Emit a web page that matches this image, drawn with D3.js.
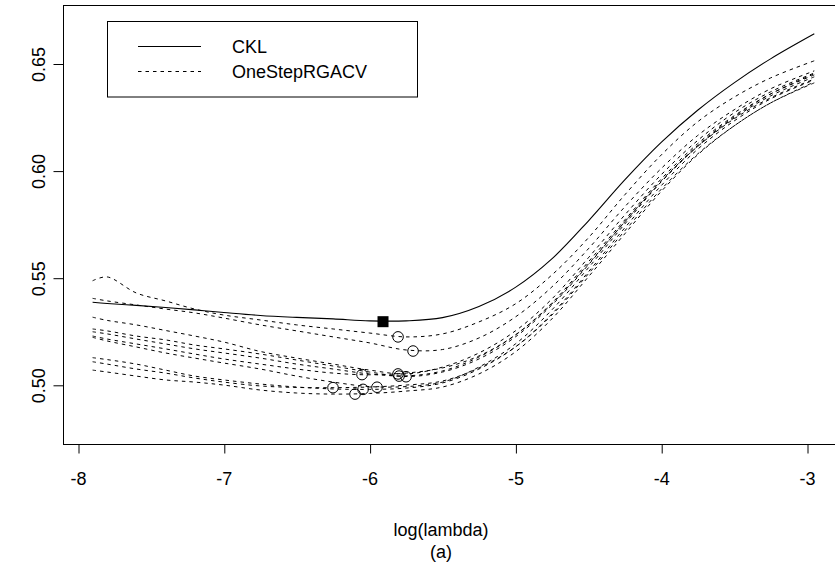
<!DOCTYPE html>
<html>
<head>
<meta charset="utf-8">
<script src="https://cdn.jsdelivr.net/npm/d3@7"></script>
<style>
  html, body { margin: 0; padding: 0; background: #fff; }
  svg { display: block; }
  text { font-family: "Liberation Sans", Arial, Helvetica, sans-serif; fill: #000; }
</style>
</head>
<body>
<svg id="chart" width="835" height="579"></svg>
<script>
// ---- data ----
const logLambda = [-7.9, -7.8, -7.6, -7.4, -7.2, -7.0, -6.75, -6.5, -6.25, -6.0, -5.75, -5.5,
                   -5.25, -5.0, -4.75, -4.5, -4.25, -4.0, -3.75, -3.5, -3.25, -2.95];

const cklValues = [0.5388,0.5382,0.5373,0.5363,0.5352,0.5340,0.5326,0.5317,0.5310,0.5301,0.5301,0.5316,
                   0.5368,0.5457,0.5590,0.5767,0.5959,0.6134,0.6284,0.6412,0.6524,0.6641];
const cklMinX = -5.908;
const cklMinY = 0.5297;

const rgacv1  = [0.5488,0.5506,0.5431,0.5394,0.5356,0.5328,0.5305,0.5282,0.5263,0.5244,0.5226,0.5240,0.5296,0.5380,0.5515,0.5688,0.5889,0.6075,0.6230,0.6345,0.6435,0.6515];
const rgacv2  = [0.5406,0.5394,0.5375,0.5356,0.5338,0.5314,0.5282,0.5254,0.5226,0.5198,0.5165,0.5167,0.5221,0.5319,0.5459,0.5637,0.5833,0.6012,0.6166,0.6286,0.6384,0.6468];
const rgacv3  = [0.5318,0.5303,0.5282,0.5256,0.5230,0.5202,0.5158,0.5127,0.5099,0.5071,0.5053,0.5085,0.5151,0.5254,0.5403,0.5595,0.5795,0.5983,0.6143,0.6272,0.6370,0.6458];
const rgacv4  = [0.5263,0.5254,0.5230,0.5212,0.5188,0.5170,0.5146,0.5118,0.5090,0.5062,0.5041,0.5062,0.5123,0.5226,0.5375,0.5562,0.5763,0.5950,0.6115,0.6248,0.6351,0.6440];
const rgacv5  = [0.5250,0.5240,0.5216,0.5193,0.5170,0.5151,0.5127,0.5099,0.5076,0.5053,0.5044,0.5067,0.5132,0.5235,0.5384,0.5576,0.5772,0.5963,0.6128,0.6258,0.6360,0.6449];
const rgacv6  = [0.5230,0.5216,0.5193,0.5170,0.5146,0.5123,0.5099,0.5076,0.5057,0.5049,0.5057,0.5081,0.5137,0.5235,0.5380,0.5566,0.5763,0.5955,0.6115,0.6244,0.6342,0.6430];
const rgacv7  = [0.5224,0.5207,0.5179,0.5151,0.5127,0.5104,0.5076,0.5043,0.5015,0.4994,0.4994,0.5015,0.5085,0.5193,0.5352,0.5548,0.5753,0.5950,0.6120,0.6253,0.6360,0.6454];
const rgacv8  = [0.5129,0.5120,0.5099,0.5071,0.5043,0.5025,0.5006,0.4992,0.4983,0.4981,0.4987,0.5011,0.5076,0.5179,0.5333,0.5529,0.5735,0.5932,0.6102,0.6234,0.6337,0.6426];
const rgacv9  = [0.5110,0.5099,0.5076,0.5057,0.5034,0.5015,0.4997,0.4990,0.4989,0.4992,0.5001,0.5020,0.5081,0.5179,0.5328,0.5520,0.5721,0.5915,0.6080,0.6211,0.6318,0.6412];
const rgacv10 = [0.5071,0.5062,0.5043,0.5025,0.5015,0.5001,0.4978,0.4964,0.4959,0.4962,0.4973,0.4992,0.5053,0.5156,0.5310,0.5506,0.5707,0.5905,0.6076,0.6211,0.6318,0.6416];
const rgacvSeries = [rgacv1, rgacv2, rgacv3, rgacv4, rgacv5, rgacv6, rgacv7, rgacv8, rgacv9, rgacv10];

const rgacvMinX = [-5.805, -5.702, -5.805, -5.750, -5.798, -6.052, -5.949, -6.045, -6.251, -6.100];
const rgacvMinY = [0.5226, 0.5160, 0.5053, 0.5040, 0.5043, 0.5050, 0.4991, 0.4981, 0.4989, 0.4959];

const xTicks = [-8, -7, -6, -5, -4, -3];
const yTicks = [0.50, 0.55, 0.60, 0.65];
const legendLabels = ["CKL", "OneStepRGACV"];
const xLabel = "log(lambda)";
const subLabel = "(a)";

// ---- layout ----
const svg = d3.select("#chart");
const FS = 18;
const box = { left: 63.5, top: 5.5, bottom: 444.5, right: 843.5 };

const x = d3.scaleLinear().domain([-8, -3]).range([78, 807]);
const y = d3.scaleLinear().domain([0.50, 0.65]).range([385.3, 64]);

svg.append("rect").attr("width", 835).attr("height", 579).attr("fill", "#fff");

// plot box
svg.append("rect")
  .attr("x", box.left).attr("y", box.top)
  .attr("width", box.right - box.left).attr("height", box.bottom - box.top)
  .attr("fill", "none").attr("stroke", "#000").attr("stroke-width", 1);

// x axis
const gx = svg.append("g").attr("transform", `translate(0,${box.bottom})`)
  .call(d3.axisBottom(x).tickValues(xTicks).tickSize(9).tickFormat(d3.format("d")));
gx.select(".domain").remove();
gx.selectAll(".tick line").attr("stroke", "#000").attr("transform", "translate(0.5,0)");
gx.selectAll(".tick text").attr("y", 40).attr("dy", "0").attr("font-size", FS)
  .attr("font-family", "Liberation Sans, Arial, sans-serif")
  .text(d => String(d).replace("\u2212", "-"));

// y axis
const gy = svg.append("g").attr("transform", `translate(${box.left},0)`)
  .call(d3.axisLeft(y).tickValues(yTicks).tickSize(10).tickFormat(d3.format(".2f")));
gy.select(".domain").remove();
gy.selectAll(".tick line").attr("stroke", "#000");
gy.selectAll(".tick text")
  .attr("transform", "rotate(-90)")
  .attr("x", 0).attr("y", -19).attr("dy", "0")
  .attr("text-anchor", "middle")
  .attr("font-size", FS)
  .attr("font-family", "Liberation Sans, Arial, sans-serif");

// lines
const line = d3.line()
  .x((d, i) => x(logLambda[i]))
  .y(d => y(d))
  .curve(d3.curveCatmullRom.alpha(0.5));

const gLines = svg.append("g");
rgacvSeries.forEach(s => {
  gLines.append("path").attr("d", line(s))
    .attr("fill", "none").attr("stroke", "#000").attr("stroke-width", 1)
    .attr("stroke-dasharray", "3.5,4");
});
gLines.append("path").attr("d", line(cklValues))
  .attr("fill", "none").attr("stroke", "#000").attr("stroke-width", 1.1);

// minima markers
rgacvMinX.forEach((mx, i) => {
  svg.append("circle").attr("cx", x(mx)).attr("cy", y(rgacvMinY[i])).attr("r", 5.3)
    .attr("fill", "none").attr("stroke", "#000").attr("stroke-width", 1);
});
svg.append("rect")
  .attr("x", x(cklMinX) - 5.5).attr("y", y(cklMinY) - 5.5)
  .attr("width", 11).attr("height", 11).attr("fill", "#000");

// legend
const lg = svg.append("g");
lg.append("rect").attr("x", 107.5).attr("y", 21.5).attr("width", 310).attr("height", 75.5)
  .attr("fill", "#fff").attr("stroke", "#000").attr("stroke-width", 1);
lg.append("line").attr("x1", 138).attr("x2", 201).attr("y1", 46.5).attr("y2", 46.5)
  .attr("stroke", "#000").attr("stroke-width", 1.1);
lg.append("line").attr("x1", 138).attr("x2", 201).attr("y1", 71.5).attr("y2", 71.5)
  .attr("stroke", "#000").attr("stroke-width", 1).attr("stroke-dasharray", "3.5,4");
lg.append("text").attr("x", 232).attr("y", 53).attr("font-size", FS).text(legendLabels[0]);
lg.append("text").attr("x", 232).attr("y", 78).attr("font-size", FS).text(legendLabels[1]);

// axis titles
svg.append("text").attr("x", 441).attr("y", 536).attr("text-anchor", "middle")
  .attr("font-size", FS).text(xLabel);
svg.append("text").attr("x", 441).attr("y", 558).attr("text-anchor", "middle")
  .attr("font-size", FS).text(subLabel);
</script>
</body>
</html>
